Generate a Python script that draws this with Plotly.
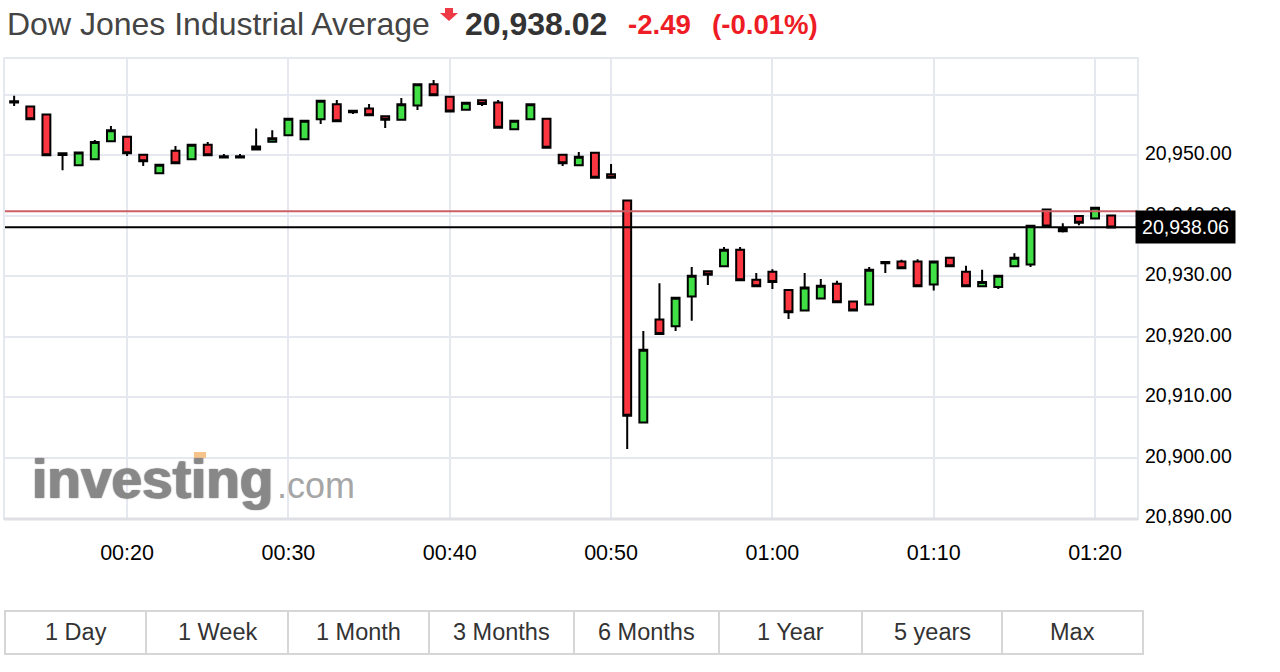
import plotly.graph_objects as go

DAY = "2017-03-01 "

TIMES = [
    "00:13", "00:14", "00:15", "00:16", "00:17", "00:18", "00:19", "00:20", "00:21", "00:22",
    "00:23", "00:24", "00:25", "00:26", "00:27", "00:28", "00:29", "00:30", "00:31", "00:32",
    "00:33", "00:34", "00:35", "00:36", "00:37", "00:38", "00:39", "00:40", "00:41", "00:42",
    "00:43", "00:44", "00:45", "00:46", "00:47", "00:48", "00:49", "00:50", "00:51", "00:52",
    "00:53", "00:54", "00:55", "00:56", "00:57", "00:58", "00:59", "01:00", "01:01", "01:02",
    "01:03", "01:04", "01:05", "01:06", "01:07", "01:08", "01:09", "01:10", "01:11", "01:12",
    "01:13", "01:14", "01:15", "01:16", "01:17", "01:18", "01:19", "01:20", "01:21",
]
OPENS = [
    20958.9, 20958.0, 20956.7, 20950.3, 20948.3, 20949.3, 20952.26, 20953.03, 20950.05, 20946.97,
    20950.72, 20949.28, 20951.7, 20949.8, 20949.8, 20950.9, 20952.2, 20953.25, 20952.6, 20955.9,
    20958.37, 20957.33, 20957.7, 20956.39, 20955.84, 20958.2, 20961.68, 20959.64, 20957.49, 20959.04,
    20958.7, 20954.24, 20955.9, 20956.0, 20950.05, 20948.3, 20950.39, 20946.8, 20942.5, 20905.8,
    20922.8, 20921.7, 20926.6, 20930.8, 20931.6, 20934.35, 20929.4, 20930.7, 20927.7, 20924.3,
    20926.3, 20928.7, 20925.8, 20925.3, 20932.3, 20932.4, 20932.4, 20928.6, 20933.0, 20930.7,
    20928.3, 20928.2, 20931.6, 20931.9, 20941.0, 20937.8, 20939.9, 20939.5, 20940.0,
]
HIGHS = [
    20959.8, 20958.0, 20956.7, 20950.3, 20950.4, 20952.5, 20954.8, 20953.03, 20950.05, 20948.4,
    20951.5, 20951.7, 20952.15, 20950.15, 20950.15, 20954.4, 20954.1, 20956.0, 20955.67, 20958.98,
    20959.09, 20957.33, 20958.43, 20956.39, 20959.42, 20961.68, 20962.4, 20959.64, 20958.65, 20959.04,
    20959.09, 20955.67, 20958.37, 20956.0, 20950.05, 20950.5, 20950.39, 20948.51, 20942.5, 20920.9,
    20928.8, 20926.4, 20931.5, 20930.8, 20934.8, 20934.8, 20930.5, 20931.1, 20927.7, 20930.5,
    20929.5, 20929.2, 20925.8, 20931.5, 20932.3, 20932.7, 20932.75, 20932.4, 20933.0, 20931.7,
    20931.05, 20930.05, 20933.75, 20938.3, 20941.0, 20938.7, 20939.9, 20941.3, 20940.0,
]
LOWS = [
    20958.1, 20955.9, 20949.95, 20947.5, 20948.3, 20949.3, 20952.26, 20949.83, 20948.2, 20946.97,
    20948.62, 20949.28, 20949.95, 20949.6, 20949.6, 20950.9, 20952.2, 20953.25, 20952.6, 20955.12,
    20955.56, 20956.78, 20956.56, 20954.46, 20955.84, 20957.44, 20959.86, 20957.2, 20957.49, 20958.1,
    20954.52, 20954.24, 20955.9, 20951.21, 20948.18, 20948.3, 20946.25, 20946.25, 20901.4, 20905.8,
    20920.4, 20920.9, 20922.6, 20928.5, 20931.6, 20929.3, 20928.3, 20927.85, 20922.9, 20924.3,
    20926.3, 20925.65, 20924.3, 20925.3, 20930.5, 20931.3, 20928.3, 20927.6, 20931.6, 20928.3,
    20928.3, 20927.85, 20931.6, 20931.5, 20938.2, 20937.2, 20938.4, 20939.5, 20938.0,
]
CLOSES = [
    20958.7, 20955.9, 20949.95, 20950.0, 20950.4, 20952.15, 20954.08, 20950.28, 20948.95, 20948.4,
    20948.62, 20951.7, 20949.95, 20949.6, 20949.6, 20951.4, 20952.75, 20956.0, 20955.67, 20958.98,
    20955.56, 20957.05, 20956.56, 20955.84, 20958.37, 20961.68, 20959.86, 20957.2, 20958.65, 20958.43,
    20954.52, 20955.67, 20958.37, 20951.21, 20948.62, 20949.72, 20946.25, 20946.25, 20906.9, 20917.8,
    20920.4, 20926.4, 20930.05, 20930.2, 20934.35, 20929.3, 20928.3, 20929.0, 20924.0, 20928.1,
    20928.4, 20925.65, 20924.3, 20931.05, 20932.1, 20931.3, 20928.3, 20932.4, 20931.6, 20928.3,
    20929.0, 20930.05, 20933.0, 20938.3, 20938.2, 20937.4, 20938.8, 20941.3, 20938.0,
]

Y_TICKS = [20890, 20900, 20910, 20920, 20930, 20940, 20950, 20960]
Y_LABELS = ["20,890.00", "20,900.00", "20,910.00", "20,920.00", "20,930.00", "20,940.00", "20,950.00"]
LAST_PRICE = 20938.06
PREV_CLOSE = 20940.7
BUTTONS = ["1 Day", "1 Week", "1 Month", "3 Months", "6 Months", "1 Year", "5 years", "Max"]
BUTTON_EDGES = [5, 146, 288, 429, 574, 719, 862, 1002, 1143]

FONT = "Liberation Sans, Arial, sans-serif"
GRID = "#e6e8f0"
LEFT, RIGHT, TOP, BOTTOM = 5, 1137, 59, 518


# page pixels to paper coordinates, for everything outside the plot area
def px(x):
    return (x - LEFT) / (RIGHT - LEFT)


def py(y):
    return (BOTTOM - y) / (BOTTOM - TOP)


def label(text, x, y, size, color, anchor="left", bold=False, shadow=None):
    font = dict(family=FONT, size=size, color=color)
    if shadow:
        font["shadow"] = shadow
    fig.add_annotation(
        text=f"<b>{text}</b>" if bold else text,
        xref="paper", yref="paper", x=px(x), y=py(y),
        xanchor=anchor, yanchor="middle", showarrow=False,
        font=font
    )


fig = go.Figure(go.Candlestick(
    x=[DAY + t for t in TIMES],
    open=OPENS,
    high=HIGHS,
    low=LOWS,
    close=CLOSES,
    whiskerwidth=0,
    increasing=dict(fillcolor="#3fdf45", line=dict(color="#000000", width=2)),
    decreasing=dict(fillcolor="#fb3640", line=dict(color="#000000", width=2)),
    showlegend=False
))

fig.update_layout(
    width=1280,
    height=672,
    margin=dict(l=LEFT, r=1280 - RIGHT, t=TOP, b=672 - BOTTOM, pad=0),
    paper_bgcolor="#ffffff",
    plot_bgcolor="#ffffff",
    font=dict(family=FONT, color="#000000"),
    boxgap=0.3,
    showlegend=False
)

fig.update_xaxes(
    type="date",
    rangeslider_visible=False,
    range=[DAY + "00:12:26", DAY + "01:22:36"],
    tick0=DAY + "00:00",
    dtick=600000,
    tickformat="%H:%M",
    tickfont=dict(size=21.5, color="#000000"),
    ticks="outside",
    ticklen=14,
    tickcolor="rgba(0,0,0,0)",
    gridcolor=GRID,
    gridwidth=2,
    showline=True,
    linecolor=GRID,
    linewidth=2,
    mirror=True,
    zeroline=False
)
fig.update_yaxes(
    range=[20890, 20965.87],
    tickvals=Y_TICKS,
    showticklabels=False,
    gridcolor=GRID,
    gridwidth=2,
    showline=True,
    linecolor=GRID,
    linewidth=2,
    mirror=True,
    zeroline=False
)

# previous close and last price
fig.add_shape(type="line", xref="paper", x0=0, x1=1, y0=PREV_CLOSE, y1=PREV_CLOSE,
              line=dict(color="#cc5f66", width=2))
fig.add_shape(type="line", xref="paper", x0=0, x1=1, y0=LAST_PRICE, y1=LAST_PRICE,
              line=dict(color="#000000", width=2))

# heavier bottom edge of the plot
fig.add_shape(type="line", xref="paper", yref="paper", x0=px(4), x1=px(1138), y0=py(519), y1=py(519),
              line=dict(color="#dfe0e6", width=3))

for text, value in zip(Y_LABELS, Y_TICKS):
    fig.add_annotation(
        text=text, xref="paper", yref="y", x=px(1234), y=value, yshift=2,
        xanchor="right", yanchor="middle", showarrow=False,
        font=dict(family=FONT, size=19.5, color="#000000")
    )

fig.add_annotation(
    text=f"{LAST_PRICE:,.2f}", xref="paper", yref="y", x=px(1135), y=LAST_PRICE,
    xanchor="left", yanchor="middle", showarrow=False, width=99, height=32,
    bgcolor="#000000", borderpad=0, align="center",
    font=dict(family=FONT, size=19.5, color="#ffffff")
)

# header
label("Dow Jones Industrial Average", 5, 24, 32, "#444444")
label("20,938.02", 463, 24, 32, "#333333", bold=True)
label("-2.49", 626, 25, 27.6, "#ee1c25", bold=True)
label("(-0.01%)", 710, 25, 27.6, "#ee1c25", bold=True)
arrow = [(445, 8), (453, 8), (453, 13), (458, 13), (449, 21), (440, 13), (445, 13)]
fig.add_shape(
    type="path", xref="paper", yref="paper", line_width=0, fillcolor="#ee3a44",
    path="M " + " L ".join(f"{px(x):.5f},{py(y):.5f}" for x, y in arrow) + " Z"
)

# watermark
label("investing", 30, 479, 55, "#888888", bold=True, shadow="1px 0 1px #888888, -1px 0 1px #888888")
label(".com", 275, 485, 36, "#a6a6a6")
fig.add_shape(type="rect", xref="paper", yref="paper", x0=px(194), x1=px(206), y0=py(458), y1=py(452),
              line_width=0, fillcolor="#f6c48a")

# period buttons
fig.add_shape(type="rect", xref="paper", yref="paper", x0=px(5), x1=px(1143), y0=py(654), y1=py(611),
              line=dict(color="#d6d6d6", width=2))
for i, text in enumerate(BUTTONS):
    if i > 0:
        fig.add_shape(type="line", xref="paper", yref="paper",
                      x0=px(BUTTON_EDGES[i]), x1=px(BUTTON_EDGES[i]), y0=py(654), y1=py(611),
                      line=dict(color="#d6d6d6", width=2))
    label(text, (BUTTON_EDGES[i] + BUTTON_EDGES[i + 1]) / 2, 632, 23.5, "#333333", anchor="center")

fig.write_html("out.html", config={"displayModeBar": False},
               post_script="document.body.style.margin='0';")
